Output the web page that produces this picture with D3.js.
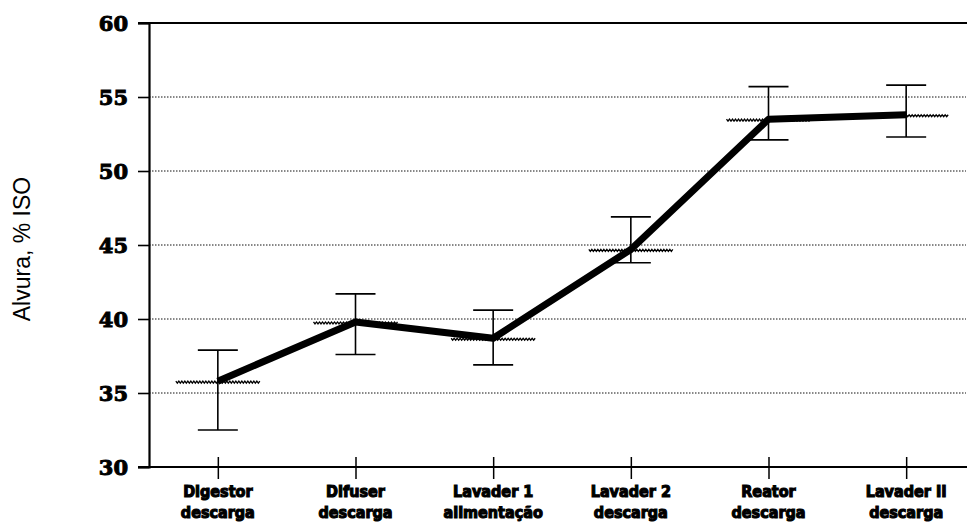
<!DOCTYPE html>
<html>
<head>
<meta charset="utf-8">
<script src="https://cdn.jsdelivr.net/npm/d3@7"></script>
<style>
  html, body { margin: 0; padding: 0; background: #fff; }
  svg { display: block; }
</style>
</head>
<body>
<svg id="chart" width="967" height="531"></svg>
<script>
// Sampling points along the line
const stages = [
  ["Digestor", "descarga"],
  ["Difuser", "descarga"],
  ["Lavader 1", "alimentação"],
  ["Lavader 2", "descarga"],
  ["Reator", "descarga"],
  ["Lavader II", "descarga"]
];
// Mean brightness and the ends of each error bar (% ISO)
const meanValues = [35.8, 39.8, 38.7, 44.7, 53.5, 53.8];
const upperValues = [37.9, 41.7, 40.6, 46.9, 55.7, 55.8];
const lowerValues = [32.5, 37.6, 36.9, 43.8, 52.1, 52.3];
const yTicks = [30, 35, 40, 45, 50, 55, 60];
const yTitle = "Alvura, % ISO";

const svg = d3.select("#chart");
const plotLeft = 149, plotRight = 975, plotTop = 23, plotBottom = 467;

const x = d3.scalePoint()
  .domain(d3.range(stages.length))
  .range([plotLeft, plotRight])
  .padding(0.5);

const y = d3.scaleLinear()
  .domain([30, 60])
  .range([plotBottom, plotTop]);

// dotted horizontal gridlines
svg.append("g")
  .selectAll("line")
  .data(yTicks.filter(t => t !== 30 && t !== 60))
  .join("line")
  .attr("x1", plotLeft).attr("x2", 966)
  .attr("y1", d => y(d)).attr("y2", d => y(d))
  .attr("stroke", "#111")
  .attr("stroke-width", 1)
  .attr("stroke-dasharray", "1.5,1.5");

// top frame line
svg.append("line")
  .attr("x1", 138).attr("x2", 967)
  .attr("y1", y(60)).attr("y2", y(60))
  .attr("stroke", "#000").attr("stroke-width", 2.2);

// y axis
const yAxis = svg.append("g")
  .attr("transform", `translate(${plotLeft},0)`)
  .call(d3.axisLeft(y).tickValues(yTicks).tickSize(11).tickPadding(10).tickFormat(d3.format("d")));
yAxis.select(".domain").attr("stroke-width", 2.2);
yAxis.selectAll(".tick line").attr("stroke-width", 1.6);
yAxis.selectAll("text")
  .attr("font-family", "'DejaVu Serif', serif")
  .attr("font-weight", "bold")
  .attr("font-size", 21)
  .attr("fill", "#000")
  .attr("stroke", "#000")
  .attr("stroke-width", 1)
  .attr("dy", "0.38em");

// x axis
const xAxis = svg.append("g")
  .attr("transform", `translate(0,${plotBottom})`)
  .call(d3.axisBottom(x).tickSize(12).tickFormat(() => ""));
xAxis.select(".domain").remove();
xAxis.append("line")
  .attr("x1", 138).attr("x2", 967)
  .attr("y1", 0).attr("y2", 0)
  .attr("stroke", "#000").attr("stroke-width", 2.2);
xAxis.selectAll(".tick line")
  .attr("y1", -10)
  .attr("stroke-width", 1.5);

// category labels, two lines each
const labels = svg.append("g")
  .selectAll("text")
  .data(stages)
  .join("text")
  .attr("x", (d, i) => x(i))
  .attr("y", 497)
  .attr("text-anchor", "middle")
  .attr("font-family", "'Liberation Sans Narrow', 'DejaVu Sans Condensed', sans-serif")
  .attr("font-weight", "bold")
  .attr("font-size", 16)
  .attr("fill", "#000")
  .attr("stroke", "#000")
  .attr("stroke-width", 1.1);
labels.append("tspan").attr("x", (d, i) => x(i)).text(d => d[0]);
labels.append("tspan").attr("x", (d, i) => x(i)).attr("dy", 21).text(d => d[1]);

// y axis title
svg.append("text")
  .attr("transform", `translate(30,${(plotTop + plotBottom) / 2 + 4}) rotate(-90)`)
  .attr("text-anchor", "middle")
  .attr("font-family", "'Liberation Sans', Arial, sans-serif")
  .attr("font-size", 23)
  .attr("fill", "#000")
  .text(yTitle);

// wavy markers at each mean
const wave = (cx, cy) => {
  const pts = [];
  for (let k = -42; k <= 42; k += 1.5) {
    pts.push([cx + k, cy + 1 + (Math.round(k / 1.5) % 2 === 0 ? -1 : 1)]);
  }
  return d3.line()(pts);
};
svg.append("g")
  .selectAll("path")
  .data(meanValues)
  .join("path")
  .attr("d", (d, i) => wave(x(i), y(d)))
  .attr("fill", "none")
  .attr("stroke", "#000")
  .attr("stroke-width", 1.3);

// error bars
const eb = svg.append("g")
  .selectAll("g")
  .data(meanValues)
  .join("g")
  .attr("stroke", "#000")
  .attr("stroke-width", 1.6);
eb.append("line")
  .attr("x1", (d, i) => x(i)).attr("x2", (d, i) => x(i))
  .attr("y1", (d, i) => y(upperValues[i])).attr("y2", (d, i) => y(lowerValues[i]));
eb.append("line")
  .attr("x1", (d, i) => x(i) - 20).attr("x2", (d, i) => x(i) + 20)
  .attr("y1", (d, i) => y(upperValues[i])).attr("y2", (d, i) => y(upperValues[i]));
eb.append("line")
  .attr("x1", (d, i) => x(i) - 20).attr("x2", (d, i) => x(i) + 20)
  .attr("y1", (d, i) => y(lowerValues[i])).attr("y2", (d, i) => y(lowerValues[i]));

// mean brightness line
svg.append("path")
  .datum(meanValues)
  .attr("d", d3.line().x((d, i) => x(i)).y(d => y(d)))
  .attr("fill", "none")
  .attr("stroke", "#000")
  .attr("stroke-width", 7)
  .attr("stroke-linejoin", "round");
</script>
</body>
</html>
